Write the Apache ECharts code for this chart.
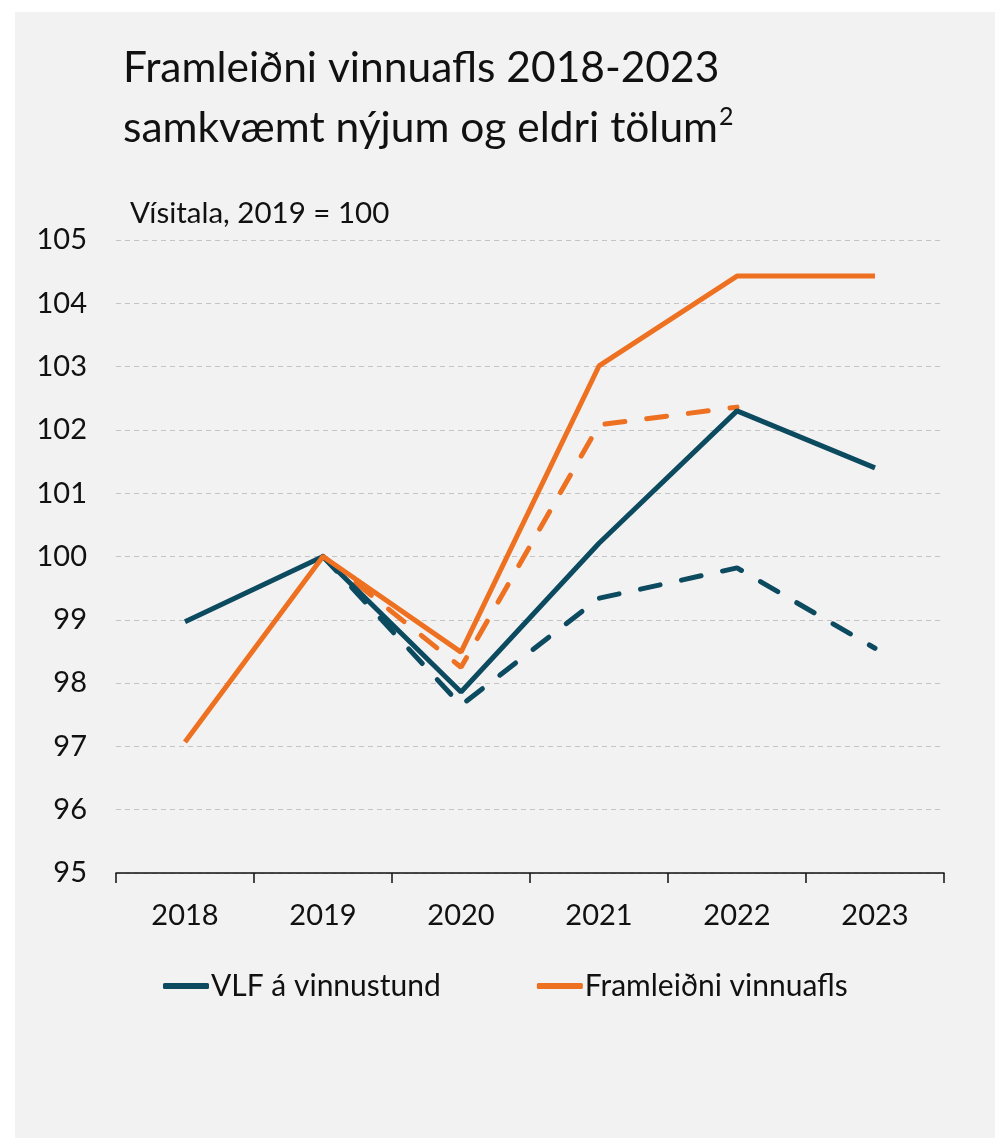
<!DOCTYPE html>
<html><head><meta charset="utf-8">
<script src="https://cdn.jsdelivr.net/npm/echarts@6/dist/echarts.min.js"></script>
<style>html,body{margin:0;padding:0;background:#fff}#c{width:995px;height:1138px}</style>
</head><body><div id="c"></div>
<script>
const years = ['2018','2019','2020','2021','2022','2023'];
const vlfNew = [98.97, 100, 97.86, 100.21, 102.30, 101.40];
const vlfOld = [null, 100, 97.65, 99.34, 99.82, 98.55];
const prodNew = [97.07, 100, 98.49, 103.01, 104.43, 104.43];
const prodOld = [null, 100, 98.25, 102.08, 102.36, null];
const yTicks = [95, 105, 1];

const teal = '#0c4a60';
const orange = '#ee7021';
const FONT = 'Lato';

const chart = echarts.init(document.getElementById('c'));
chart.setOption({
  backgroundColor: '#fff',
  animation: false,
  graphic: [{type:'rect', shape:{x:15,y:12,width:980,height:1126}, style:{fill:'#f2f2f2'}, z:-10}],
  title: [{
    text: 'Framleiðni vinnuafls 2018-2023\nsamkvæmt nýjum og eldri tölum{sup|2}',
    left: 118, top: 33,
    textStyle: {fontFamily: FONT, fontSize: 42.5, fontWeight: 'normal', color: '#111', lineHeight: 60,
      rich: {
        sup: {fontFamily: FONT, fontSize: 25, verticalAlign: 'middle', color:'#111', padding:[0,0,22,1], lineHeight: 60}}}
  },{
    text: 'Vísitala, 2019 = 100',
    left: 125, top: 193,
    textStyle: {fontFamily: FONT, fontSize: 29.5, fontWeight: 'normal', color: '#111'}
  }],
  legend: {
    data: ['VLF á vinnustund', 'Framleiðni vinnuafls'],
    left: 158, top: 966,
    itemWidth: 46, itemHeight: 6, itemGap: 96,
    icon: 'roundRect',
    textStyle: {fontFamily: FONT, fontSize: 30, color: '#111', padding: [0,0,0,-3]}
  },
  grid: {left: 116, right: 51, top: 240, bottom: 265, containLabel: false},
  xAxis: {
    type: 'category', data: years, boundaryGap: true,
    axisLine: {lineStyle: {color: '#111', width: 1.5}},
    axisTick: {show: true, length: 10, lineStyle: {color: '#111', width: 1.5}},
    axisLabel: {fontFamily: FONT, fontSize: 29, color: '#111', margin: 28},
    splitLine: {show: false}
  },
  yAxis: {
    type: 'value', min: yTicks[0], max: yTicks[1], interval: yTicks[2],
    axisLine: {show: false}, axisTick: {show: false},
    axisLabel: {fontFamily: FONT, fontSize: 29, color: '#111', margin: 29},
    splitLine: {lineStyle: {color: '#c4c4c4', type: [5,4], width: 1}}
  },
  series: [
    {name: 'VLF á vinnustund (eldri)', type: 'line', data: vlfOld, symbol: 'none', connectNulls: false,
     lineStyle: {color: teal, width: 5, type: [20, 22], cap: 'round'}, itemStyle:{color:teal}, z: 2},
    {name: 'Framleiðni vinnuafls (eldri)', type: 'line', data: prodOld, symbol: 'none',
     lineStyle: {color: orange, width: 5, type: [20, 22], cap: 'round'}, itemStyle:{color:orange}, z: 2},
    {name: 'VLF á vinnustund', type: 'line', data: vlfNew, symbol: 'none',
     lineStyle: {color: teal, width: 5}, itemStyle: {color: teal}, z: 3},
    {name: 'Framleiðni vinnuafls', type: 'line', data: prodNew, symbol: 'none',
     lineStyle: {color: orange, width: 5}, itemStyle: {color: orange}, z: 4}
  ]
});
</script></body></html>
